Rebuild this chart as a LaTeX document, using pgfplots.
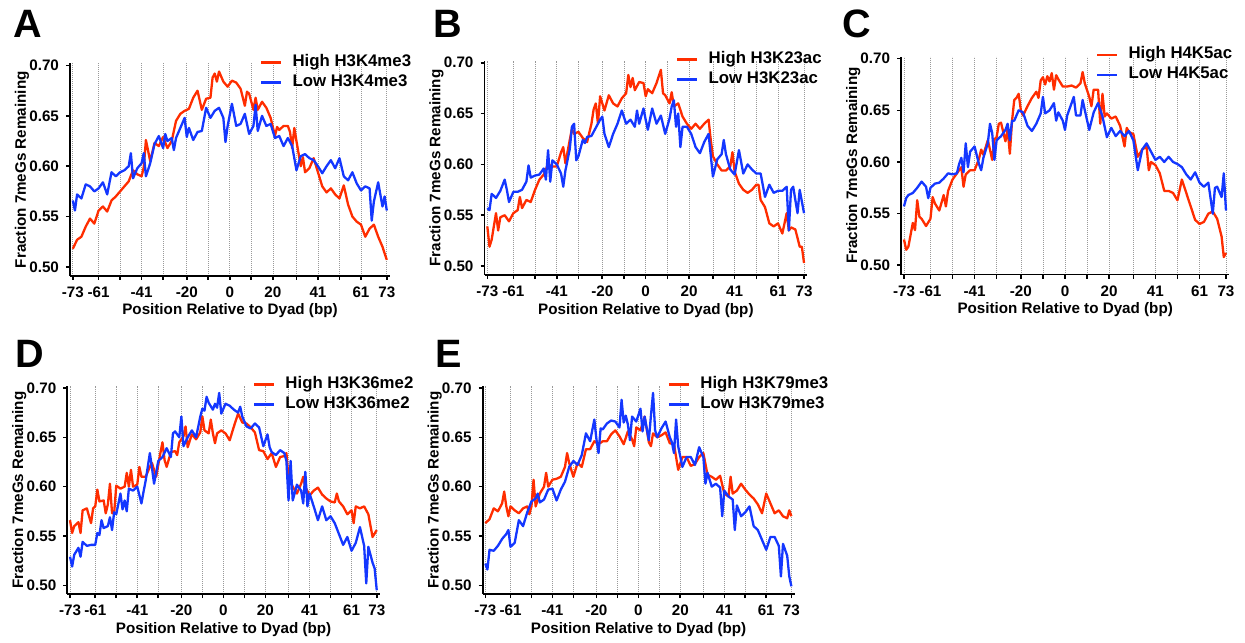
\documentclass[border=0pt]{standalone}
\usepackage{fontspec}
\setmainfont{Liberation Sans}
\usepackage{pgfplots}
\pgfplotsset{compat=1.18}
\definecolor{hired}{RGB}{255,45,0}
\definecolor{loblue}{RGB}{20,55,255}

\pgfplotsset{
  panel/.style={
    scale only axis, anchor=south west,
    xmin=-74.3, xmax=74.5, ymin=0.491, ymax=0.702,
    axis x line=bottom, axis y line=left,
    axis line style={-, line width=0.9pt},
    xtick={-73,-61,-51,-41,-31,-20,-10,0,10,20,31,41,51,61,73},
    xticklabels={-73,-61,,-41,,-20,,0,,20,,41,,61,73},
    ytick={0.50,0.55,0.60,0.65,0.70},
    yticklabels={0.50,0.55,0.60,0.65,0.70},
    tick align=outside, major tick length=2pt,
    tick style={line width=0.8pt, black},
    xmajorgrids, grid style={dash pattern=on 0.4pt off 0.6pt, line width=0.3pt, black!40},
    tick label style={font=\bfseries\fontsize{7.6}{9}\selectfont},
    xlabel={Position Relative to Dyad (bp)},
    ylabel={Fraction 7meGs Remaining},
    every axis x label/.style={at={(axis description cs:0.5,0)}, anchor=center,
      yshift=-17.5pt, font=\bfseries\fontsize{7.6}{9}\selectfont},
    every axis y label/.style={at={(axis description cs:0,0.5)}, xshift=-24pt,
      rotate=90, anchor=center, font=\bfseries\fontsize{7.6}{9}\selectfont},
    legend cell align=left,
    legend image code/.code={\draw[#1, line width=1.4pt] (0pt,0pt) -- (10pt,0pt);},
    legend style={draw=none, fill=none, at={(0.593,1.044)}, anchor=north west,
      inner sep=0pt, outer sep=0pt, row sep=2pt,
      font=\bfseries\fontsize{8.4}{10}\selectfont,
      nodes={inner sep=0pt, text height=6pt, text depth=2pt},
      /tikz/every odd column/.append style={column sep=5pt}},
  },
  hi/.style={hired, line width=1.15pt, line join=round, no markers},
  lo/.style={loblue, line width=1.15pt, line join=round, no markers},
}
\newcommand{\plabel}[3]{\node[anchor=base west, font=\bfseries\fontsize{19.8}{22}\selectfont,
  inner sep=0pt] at (#1,#2) {#3};}

\begin{document}
\begin{tikzpicture}
\useasboundingbox (0,0) rectangle (622.5pt,321pt);

% A
\begin{axis}[panel, at={(35pt,183pt)}, width=160pt, height=106.25pt]
\addplot[hi] coordinates {(-73,0.518)(-71,0.527)(-69,0.530)(-67,0.540)(-65,0.548)(-63,0.543)(-61,0.556)(-59,0.560)(-57,0.555)(-55,0.566)(-53,0.570)(-51,0.575)(-49,0.580)(-47,0.585)(-45,0.596)(-43,0.592)(-41,0.590)(-40,0.599)(-39,0.626)(-37,0.605)(-35,0.623)(-33,0.620)(-31,0.629)(-29,0.618)(-27,0.625)(-25,0.645)(-23,0.652)(-21,0.655)(-19,0.657)(-17,0.668)(-15,0.675)(-13,0.656)(-11,0.667)(-9,0.668)(-8,0.688)(-7,0.692)(-6,0.684)(-5,0.694)(-3,0.684)(-1,0.679)(1,0.685)(3,0.683)(5,0.677)(7,0.660)(8,0.674)(9,0.672)(11,0.656)(12,0.668)(13,0.656)(15,0.664)(17,0.658)(19,0.648)(21,0.630)(22,0.639)(23,0.636)(25,0.640)(27,0.640)(28,0.634)(29,0.618)(30,0.638)(31,0.625)(33,0.600)(34,0.609)(35,0.594)(37,0.598)(39,0.608)(41,0.594)(43,0.580)(45,0.574)(47,0.578)(49,0.572)(51,0.568)(53,0.581)(55,0.562)(57,0.550)(59,0.545)(61,0.542)(63,0.530)(65,0.538)(67,0.542)(69,0.530)(71,0.520)(73,0.507)};
\addlegendentry{High H3K4me3}
\addplot[lo] coordinates {(-73,0.566)(-72,0.556)(-71,0.572)(-69,0.568)(-67,0.582)(-65,0.580)(-63,0.575)(-61,0.578)(-59,0.584)(-57,0.572)(-55,0.594)(-53,0.590)(-51,0.594)(-49,0.596)(-47,0.600)(-46,0.613)(-45,0.588)(-43,0.598)(-41,0.603)(-40,0.613)(-39,0.590)(-37,0.603)(-35,0.622)(-33,0.630)(-31,0.618)(-30,0.632)(-29,0.625)(-27,0.628)(-26,0.616)(-25,0.628)(-23,0.638)(-21,0.648)(-20,0.629)(-19,0.638)(-17,0.626)(-15,0.634)(-13,0.635)(-11,0.658)(-9,0.648)(-7,0.655)(-5,0.658)(-3,0.648)(-2,0.624)(-1,0.640)(1,0.662)(3,0.640)(5,0.642)(7,0.652)(9,0.632)(11,0.640)(12,0.661)(13,0.635)(15,0.650)(17,0.640)(19,0.642)(21,0.628)(23,0.630)(25,0.620)(27,0.628)(29,0.620)(31,0.596)(33,0.610)(35,0.612)(37,0.608)(39,0.606)(41,0.600)(43,0.593)(45,0.600)(47,0.606)(49,0.598)(51,0.608)(53,0.590)(55,0.586)(57,0.594)(59,0.583)(61,0.576)(63,0.580)(65,0.578)(66,0.546)(67,0.565)(69,0.584)(71,0.560)(72,0.570)(73,0.556)};
\addlegendentry{Low H3K4me3}
\end{axis}

% B
\begin{axis}[panel, at={(242.25pt,183.4pt)}, width=161.4pt, height=107.25pt]
\addplot[hi] coordinates {(-73,0.539)(-72,0.519)(-71,0.526)(-69,0.552)(-68,0.535)(-67,0.548)(-65,0.550)(-63,0.544)(-61,0.552)(-59,0.555)(-58,0.568)(-57,0.557)(-55,0.565)(-53,0.563)(-51,0.575)(-49,0.585)(-47,0.590)(-45,0.600)(-43,0.598)(-41,0.598)(-39,0.612)(-38,0.617)(-37,0.601)(-35,0.624)(-34,0.635)(-33,0.630)(-31,0.632)(-29,0.626)(-27,0.622)(-25,0.640)(-24,0.654)(-23,0.660)(-22,0.640)(-21,0.667)(-19,0.653)(-17,0.668)(-15,0.660)(-13,0.657)(-11,0.665)(-9,0.670)(-8,0.688)(-7,0.676)(-6,0.685)(-5,0.673)(-3,0.681)(-1,0.680)(0,0.667)(1,0.674)(3,0.670)(5,0.680)(7,0.693)(8,0.670)(9,0.668)(11,0.660)(12,0.671)(13,0.657)(15,0.660)(17,0.647)(19,0.640)(21,0.635)(23,0.640)(25,0.635)(27,0.640)(29,0.644)(30,0.624)(31,0.608)(33,0.600)(35,0.594)(37,0.594)(39,0.598)(40,0.612)(41,0.593)(43,0.581)(45,0.575)(47,0.572)(49,0.575)(51,0.580)(52,0.580)(53,0.565)(55,0.558)(57,0.542)(59,0.539)(61,0.542)(63,0.532)(65,0.552)(66,0.535)(67,0.538)(69,0.536)(71,0.519)(72,0.519)(73,0.503)};
\addlegendentry{High H3K23ac}
\addplot[lo] coordinates {(-73,0.557)(-72,0.555)(-71,0.571)(-69,0.567)(-67,0.574)(-65,0.585)(-64,0.575)(-63,0.563)(-61,0.573)(-59,0.573)(-57,0.575)(-55,0.583)(-54,0.599)(-53,0.587)(-51,0.589)(-49,0.590)(-47,0.596)(-46,0.585)(-45,0.614)(-44,0.583)(-43,0.604)(-41,0.600)(-39,0.591)(-38,0.578)(-37,0.594)(-35,0.615)(-34,0.637)(-33,0.640)(-32,0.604)(-31,0.608)(-29,0.624)(-28,0.621)(-27,0.627)(-25,0.628)(-23,0.636)(-21,0.644)(-20,0.647)(-19,0.630)(-17,0.617)(-15,0.630)(-13,0.640)(-11,0.653)(-9,0.640)(-7,0.644)(-5,0.637)(-4,0.653)(-3,0.640)(-1,0.655)(0,0.644)(1,0.634)(3,0.655)(5,0.640)(7,0.648)(9,0.630)(11,0.645)(12,0.657)(13,0.663)(14,0.637)(15,0.650)(16,0.617)(17,0.637)(19,0.637)(21,0.630)(23,0.617)(25,0.611)(27,0.622)(29,0.630)(31,0.588)(33,0.605)(35,0.610)(36,0.624)(37,0.610)(39,0.595)(41,0.590)(43,0.614)(45,0.591)(47,0.600)(49,0.595)(51,0.591)(53,0.591)(55,0.568)(57,0.580)(59,0.572)(61,0.574)(63,0.574)(65,0.578)(66,0.535)(67,0.575)(68,0.578)(69,0.565)(70,0.552)(71,0.575)(73,0.552)};
\addlegendentry{Low H3K23ac}
\end{axis}

% C
\begin{axis}[panel, at={(450.55pt,183.7pt)}, width=164.1pt, height=109pt]
\addplot[hi] coordinates {(-73,0.525)(-72,0.515)(-71,0.518)(-69,0.541)(-68,0.534)(-67,0.563)(-66,0.547)(-65,0.545)(-63,0.538)(-61,0.545)(-60,0.566)(-59,0.560)(-57,0.553)(-55,0.568)(-54,0.557)(-53,0.572)(-51,0.583)(-49,0.589)(-47,0.595)(-46,0.576)(-45,0.588)(-43,0.592)(-41,0.592)(-39,0.603)(-38,0.612)(-37,0.607)(-35,0.621)(-34,0.612)(-33,0.602)(-32,0.622)(-31,0.624)(-30,0.637)(-29,0.638)(-27,0.620)(-26,0.632)(-25,0.608)(-24,0.640)(-23,0.660)(-22,0.662)(-21,0.666)(-20,0.650)(-19,0.645)(-17,0.654)(-15,0.662)(-13,0.668)(-12,0.662)(-11,0.679)(-10,0.682)(-9,0.675)(-8,0.683)(-7,0.678)(-6,0.686)(-5,0.670)(-4,0.684)(-3,0.680)(-1,0.673)(1,0.673)(3,0.674)(5,0.672)(7,0.676)(8,0.687)(9,0.676)(11,0.663)(12,0.654)(13,0.670)(15,0.670)(16,0.637)(17,0.666)(18,0.644)(19,0.647)(21,0.642)(23,0.644)(25,0.635)(27,0.615)(28,0.633)(29,0.629)(31,0.627)(33,0.605)(35,0.612)(37,0.615)(38,0.592)(39,0.600)(41,0.597)(43,0.589)(45,0.572)(47,0.572)(49,0.570)(51,0.563)(52,0.573)(53,0.583)(55,0.570)(57,0.557)(59,0.544)(61,0.540)(63,0.542)(65,0.550)(67,0.552)(69,0.545)(71,0.528)(72,0.508)(73,0.512)};
\addlegendentry{High H4K5ac}
\addplot[lo] coordinates {(-73,0.557)(-72,0.565)(-71,0.568)(-69,0.570)(-67,0.575)(-65,0.581)(-63,0.576)(-62,0.565)(-61,0.575)(-59,0.579)(-57,0.580)(-55,0.584)(-53,0.589)(-51,0.588)(-49,0.589)(-48,0.598)(-47,0.604)(-46,0.590)(-45,0.618)(-44,0.595)(-43,0.610)(-41,0.615)(-39,0.598)(-38,0.592)(-37,0.604)(-35,0.618)(-34,0.637)(-33,0.628)(-32,0.602)(-31,0.621)(-29,0.625)(-27,0.631)(-26,0.637)(-25,0.621)(-24,0.640)(-23,0.640)(-21,0.650)(-19,0.648)(-17,0.635)(-15,0.630)(-13,0.637)(-11,0.647)(-10,0.663)(-9,0.647)(-7,0.650)(-5,0.657)(-4,0.640)(-3,0.648)(-1,0.640)(0,0.631)(1,0.645)(3,0.657)(4,0.663)(5,0.645)(7,0.645)(8,0.660)(9,0.650)(11,0.631)(13,0.648)(15,0.657)(17,0.644)(19,0.624)(21,0.633)(23,0.625)(25,0.630)(27,0.625)(29,0.630)(31,0.621)(33,0.592)(35,0.612)(37,0.618)(39,0.610)(41,0.602)(43,0.605)(45,0.600)(47,0.605)(49,0.600)(51,0.598)(53,0.595)(55,0.588)(57,0.583)(59,0.590)(61,0.580)(63,0.576)(65,0.580)(67,0.550)(68,0.575)(69,0.576)(71,0.566)(72,0.589)(73,0.553)};
\addlegendentry{Low H4K5ac}
\end{axis}

% D
\begin{axis}[panel, at={(33.65pt,23.9pt)}, width=156.3pt, height=104.1pt]
\addplot[hi] coordinates {(-73,0.566)(-72,0.553)(-71,0.560)(-69,0.564)(-68,0.553)(-67,0.576)(-65,0.578)(-63,0.563)(-62,0.578)(-61,0.580)(-60,0.597)(-59,0.585)(-57,0.586)(-56,0.573)(-55,0.582)(-54,0.603)(-53,0.573)(-52,0.573)(-51,0.601)(-49,0.598)(-47,0.600)(-46,0.614)(-45,0.600)(-44,0.617)(-43,0.600)(-41,0.602)(-40,0.620)(-39,0.610)(-37,0.610)(-35,0.620)(-34,0.624)(-33,0.617)(-32,0.610)(-31,0.622)(-30,0.634)(-29,0.645)(-28,0.627)(-27,0.620)(-25,0.635)(-23,0.636)(-22,0.632)(-21,0.645)(-19,0.651)(-18,0.661)(-17,0.640)(-15,0.653)(-13,0.648)(-11,0.655)(-10,0.671)(-9,0.657)(-7,0.654)(-6,0.668)(-5,0.654)(-4,0.644)(-3,0.654)(-1,0.657)(1,0.654)(3,0.647)(5,0.661)(7,0.674)(9,0.665)(11,0.664)(13,0.660)(15,0.655)(17,0.637)(19,0.636)(21,0.628)(23,0.634)(25,0.620)(27,0.630)(29,0.631)(30,0.634)(31,0.608)(33,0.600)(35,0.593)(37,0.603)(38,0.610)(39,0.600)(41,0.591)(43,0.596)(45,0.599)(47,0.592)(49,0.588)(51,0.585)(53,0.584)(54,0.593)(55,0.585)(57,0.580)(59,0.572)(61,0.576)(62,0.563)(63,0.580)(65,0.578)(67,0.580)(69,0.572)(71,0.549)(73,0.556)};
\addlegendentry{High H3K36me2}
\addplot[lo] coordinates {(-73,0.529)(-72,0.519)(-71,0.531)(-69,0.538)(-68,0.529)(-67,0.544)(-65,0.540)(-63,0.541)(-61,0.541)(-60,0.553)(-59,0.551)(-58,0.566)(-57,0.558)(-55,0.560)(-54,0.569)(-53,0.556)(-52,0.574)(-51,0.572)(-49,0.593)(-48,0.577)(-47,0.586)(-46,0.575)(-45,0.598)(-43,0.596)(-41,0.600)(-39,0.583)(-38,0.595)(-37,0.606)(-35,0.634)(-34,0.619)(-33,0.603)(-31,0.626)(-29,0.630)(-27,0.639)(-25,0.630)(-24,0.654)(-23,0.656)(-21,0.650)(-20,0.671)(-19,0.641)(-17,0.650)(-15,0.657)(-13,0.650)(-11,0.671)(-10,0.679)(-9,0.677)(-8,0.691)(-7,0.685)(-5,0.678)(-4,0.684)(-3,0.680)(-2,0.695)(-1,0.674)(1,0.684)(3,0.682)(5,0.678)(7,0.675)(8,0.681)(9,0.671)(11,0.661)(13,0.659)(15,0.664)(17,0.660)(19,0.641)(21,0.653)(22,0.640)(23,0.635)(25,0.632)(27,0.637)(29,0.634)(30,0.626)(31,0.586)(32,0.626)(33,0.586)(35,0.602)(37,0.596)(38,0.583)(39,0.615)(40,0.580)(41,0.593)(43,0.580)(45,0.566)(47,0.580)(49,0.566)(51,0.570)(53,0.563)(55,0.552)(57,0.541)(59,0.549)(61,0.535)(63,0.543)(65,0.559)(67,0.540)(68,0.502)(69,0.539)(71,0.523)(72,0.517)(73,0.495)};
\addlegendentry{Low H3K36me2}
\end{axis}

% E
\begin{axis}[panel, at={(241.3pt,23.9pt)}, width=155.95pt, height=104.1pt]
\addplot[hi] coordinates {(-73,0.563)(-71,0.567)(-69,0.578)(-67,0.575)(-65,0.583)(-64,0.595)(-63,0.580)(-62,0.570)(-61,0.580)(-59,0.576)(-57,0.573)(-55,0.578)(-53,0.580)(-52,0.572)(-51,0.580)(-50,0.607)(-49,0.580)(-47,0.593)(-45,0.600)(-44,0.614)(-43,0.600)(-41,0.607)(-39,0.608)(-37,0.610)(-35,0.620)(-34,0.634)(-33,0.624)(-31,0.610)(-29,0.624)(-27,0.620)(-25,0.638)(-23,0.638)(-21,0.646)(-19,0.643)(-17,0.646)(-15,0.646)(-13,0.653)(-11,0.657)(-9,0.651)(-7,0.643)(-5,0.656)(-3,0.648)(-2,0.641)(-1,0.660)(1,0.657)(3,0.671)(5,0.645)(6,0.641)(7,0.654)(9,0.650)(11,0.652)(13,0.655)(15,0.644)(17,0.643)(19,0.617)(21,0.630)(23,0.630)(25,0.621)(27,0.623)(29,0.630)(31,0.634)(33,0.612)(35,0.610)(37,0.607)(39,0.611)(41,0.593)(43,0.590)(44,0.610)(45,0.593)(47,0.596)(49,0.603)(51,0.597)(53,0.592)(55,0.588)(57,0.582)(59,0.573)(61,0.593)(63,0.583)(65,0.573)(67,0.576)(69,0.570)(71,0.568)(72,0.576)(73,0.570)};
\addlegendentry{High H3K79me3}
\addplot[lo] coordinates {(-73,0.522)(-72,0.516)(-71,0.536)(-69,0.535)(-67,0.540)(-65,0.547)(-63,0.552)(-62,0.556)(-61,0.539)(-59,0.543)(-57,0.566)(-55,0.560)(-53,0.574)(-51,0.585)(-49,0.588)(-48,0.593)(-47,0.584)(-45,0.587)(-43,0.597)(-41,0.598)(-39,0.586)(-37,0.597)(-35,0.605)(-33,0.620)(-31,0.626)(-29,0.622)(-27,0.632)(-25,0.654)(-23,0.646)(-21,0.668)(-20,0.648)(-19,0.634)(-18,0.659)(-17,0.658)(-15,0.664)(-13,0.667)(-11,0.666)(-9,0.660)(-8,0.688)(-7,0.665)(-6,0.672)(-5,0.663)(-4,0.647)(-3,0.671)(-1,0.666)(1,0.679)(2,0.656)(3,0.671)(5,0.647)(6,0.672)(7,0.695)(8,0.657)(9,0.650)(11,0.659)(13,0.666)(15,0.650)(16,0.645)(17,0.634)(18,0.668)(19,0.641)(21,0.620)(23,0.630)(25,0.630)(27,0.622)(29,0.640)(31,0.630)(32,0.603)(33,0.614)(35,0.600)(37,0.603)(39,0.599)(40,0.570)(41,0.596)(43,0.590)(45,0.587)(46,0.556)(47,0.581)(49,0.570)(51,0.574)(53,0.580)(55,0.560)(57,0.556)(59,0.546)(61,0.536)(63,0.549)(65,0.549)(67,0.540)(68,0.509)(69,0.542)(71,0.530)(72,0.509)(73,0.499)};
\addlegendentry{Low H3K79me3}
\end{axis}

\plabel{6.5pt}{302pt}{A}
\plabel{216.5pt}{302pt}{B}
\plabel{421pt}{302pt}{C}
\plabel{7.5pt}{137pt}{D}
\plabel{217.5pt}{137pt}{E}
\end{tikzpicture}
\end{document}
